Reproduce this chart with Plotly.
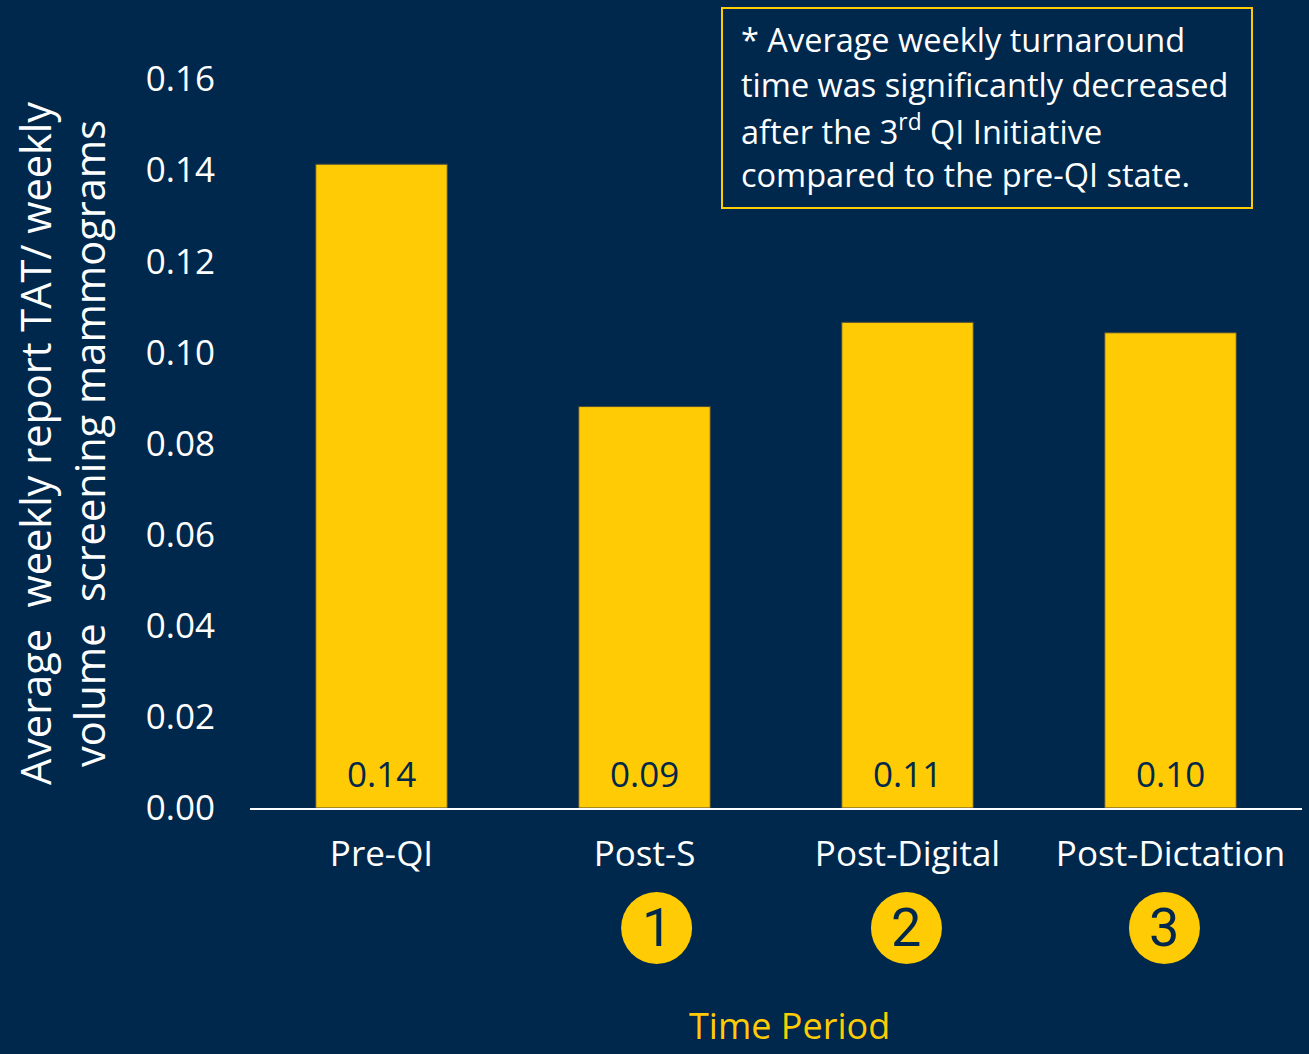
import plotly.graph_objects as go

categories = ["Pre-QI", "Post-S", "Post-Digital", "Post-Dictation"]
values = [0.1413, 0.0881, 0.1066, 0.1043]
circle_labels = ["", "1", "2", "3"]
circle_offsets = [0.0, 0.046, -0.004, -0.023]  # in category units
y_ticks = [0.00, 0.02, 0.04, 0.06, 0.08, 0.10, 0.12, 0.14, 0.16]
note_lines = [
    "* Average weekly turnaround",
    "time was significantly decreased",
    "after the 3<sup>rd</sup> QI Initiative",
    "compared to the pre-QI state.",
]

BG = "#00274C"
YEL = "#FFCB05"
FONT = "Open Sans"

W, H = 1309, 1054
ML, MR, MT, MB = 250, 7, 79, 246
PW = W - ML - MR
PH = H - MT - MB

def px_to_paper_x(px):
    return (px - ML) / PW

def px_to_paper_y(py):
    return (H - MB - py) / PH

fig = go.Figure()
fig.add_trace(go.Bar(
    x=list(range(len(categories))),
    y=values,
    width=0.5,
    marker=dict(color=YEL, line=dict(color="#4a4a3a", width=1)),
    hoverinfo="skip",
))

shapes = []
annotations = []

# value labels at the base of each bar
for i, v in enumerate(values):
    annotations.append(dict(
        x=i, y=0, xref="x", yref="y", text=f"{v:.2f}", showarrow=False,
        xanchor="center", yanchor="bottom", yshift=9,
        font=dict(family=FONT, size=35, color=BG),
    ))

cy = px_to_paper_y(928)
for i, lab in enumerate(circle_labels):
    if not lab:
        continue
    xc = i + circle_offsets[i]
    shapes.append(dict(
        type="circle", xref="x", yref="paper",
        xsizemode="pixel", ysizemode="pixel",
        xanchor=xc, yanchor=cy,
        x0=-35.5, x1=35.5, y0=-36, y1=36,
        fillcolor=YEL, line=dict(width=0),
    ))
    annotations.append(dict(
        x=xc, y=cy, xref="x", yref="paper", text=lab, showarrow=False,
        xanchor="center", yanchor="middle",
        font=dict(family="Liberation Sans Narrow, Roboto", size=54, color=BG),
    ))

# note box
shapes.append(dict(
    type="rect", xref="paper", yref="paper",
    x0=px_to_paper_x(722), x1=px_to_paper_x(1252),
    y0=px_to_paper_y(208), y1=px_to_paper_y(8),
    line=dict(color=YEL, width=2), fillcolor="rgba(0,0,0,0)",
))
for k, line in enumerate(note_lines):
    annotations.append(dict(
        x=px_to_paper_x(739), y=px_to_paper_y(40 + 45 * k),
        xref="paper", yref="paper", text=line, showarrow=False,
        xanchor="left", yanchor="middle", align="left",
        font=dict(family=FONT, size=32.5, color="white"),
    ))

# x-axis title
annotations.append(dict(
    x=px_to_paper_x(789), y=px_to_paper_y(1025), xref="paper", yref="paper",
    text="Time Period", showarrow=False, xanchor="center", yanchor="middle",
    font=dict(family=FONT, size=36, color=YEL),
))

fig.update_layout(
    width=W, height=H,
    margin=dict(l=ML, r=MR, t=MT, b=MB),
    paper_bgcolor=BG, plot_bgcolor=BG,
    showlegend=False,
    bargap=0.5,
    shapes=shapes,
    annotations=annotations,
    xaxis=dict(
        tickmode="array", tickvals=list(range(len(categories))), ticktext=categories,
        range=[-0.5, len(categories) - 0.5],
        showgrid=False, zeroline=False,
        showline=True, linecolor="white", linewidth=2,
        ticks="", tickfont=dict(family=FONT, size=35, color="white"),
        ticklabelstandoff=14,
    ),
    yaxis=dict(
        range=[0, 0.16], tickmode="array", tickvals=y_ticks,
        ticktext=[f"{v:.2f}" for v in y_ticks],
        showgrid=False, zeroline=False, showline=False, ticks="",
        tickfont=dict(family=FONT, size=35, color="white"),
        ticklabelstandoff=34,
        title=dict(
            text="Average  weekly report TAT/ weekly<br>volume  screening mammograms",
            font=dict(family=FONT, size=41.5, color="white"),
            standoff=27,
        ),
    ),
)

fig.write_html(
    "out.html",
    config={"displayModeBar": False},
    post_script="document.body.style.margin='0';document.body.style.background='#00274C';",
)
